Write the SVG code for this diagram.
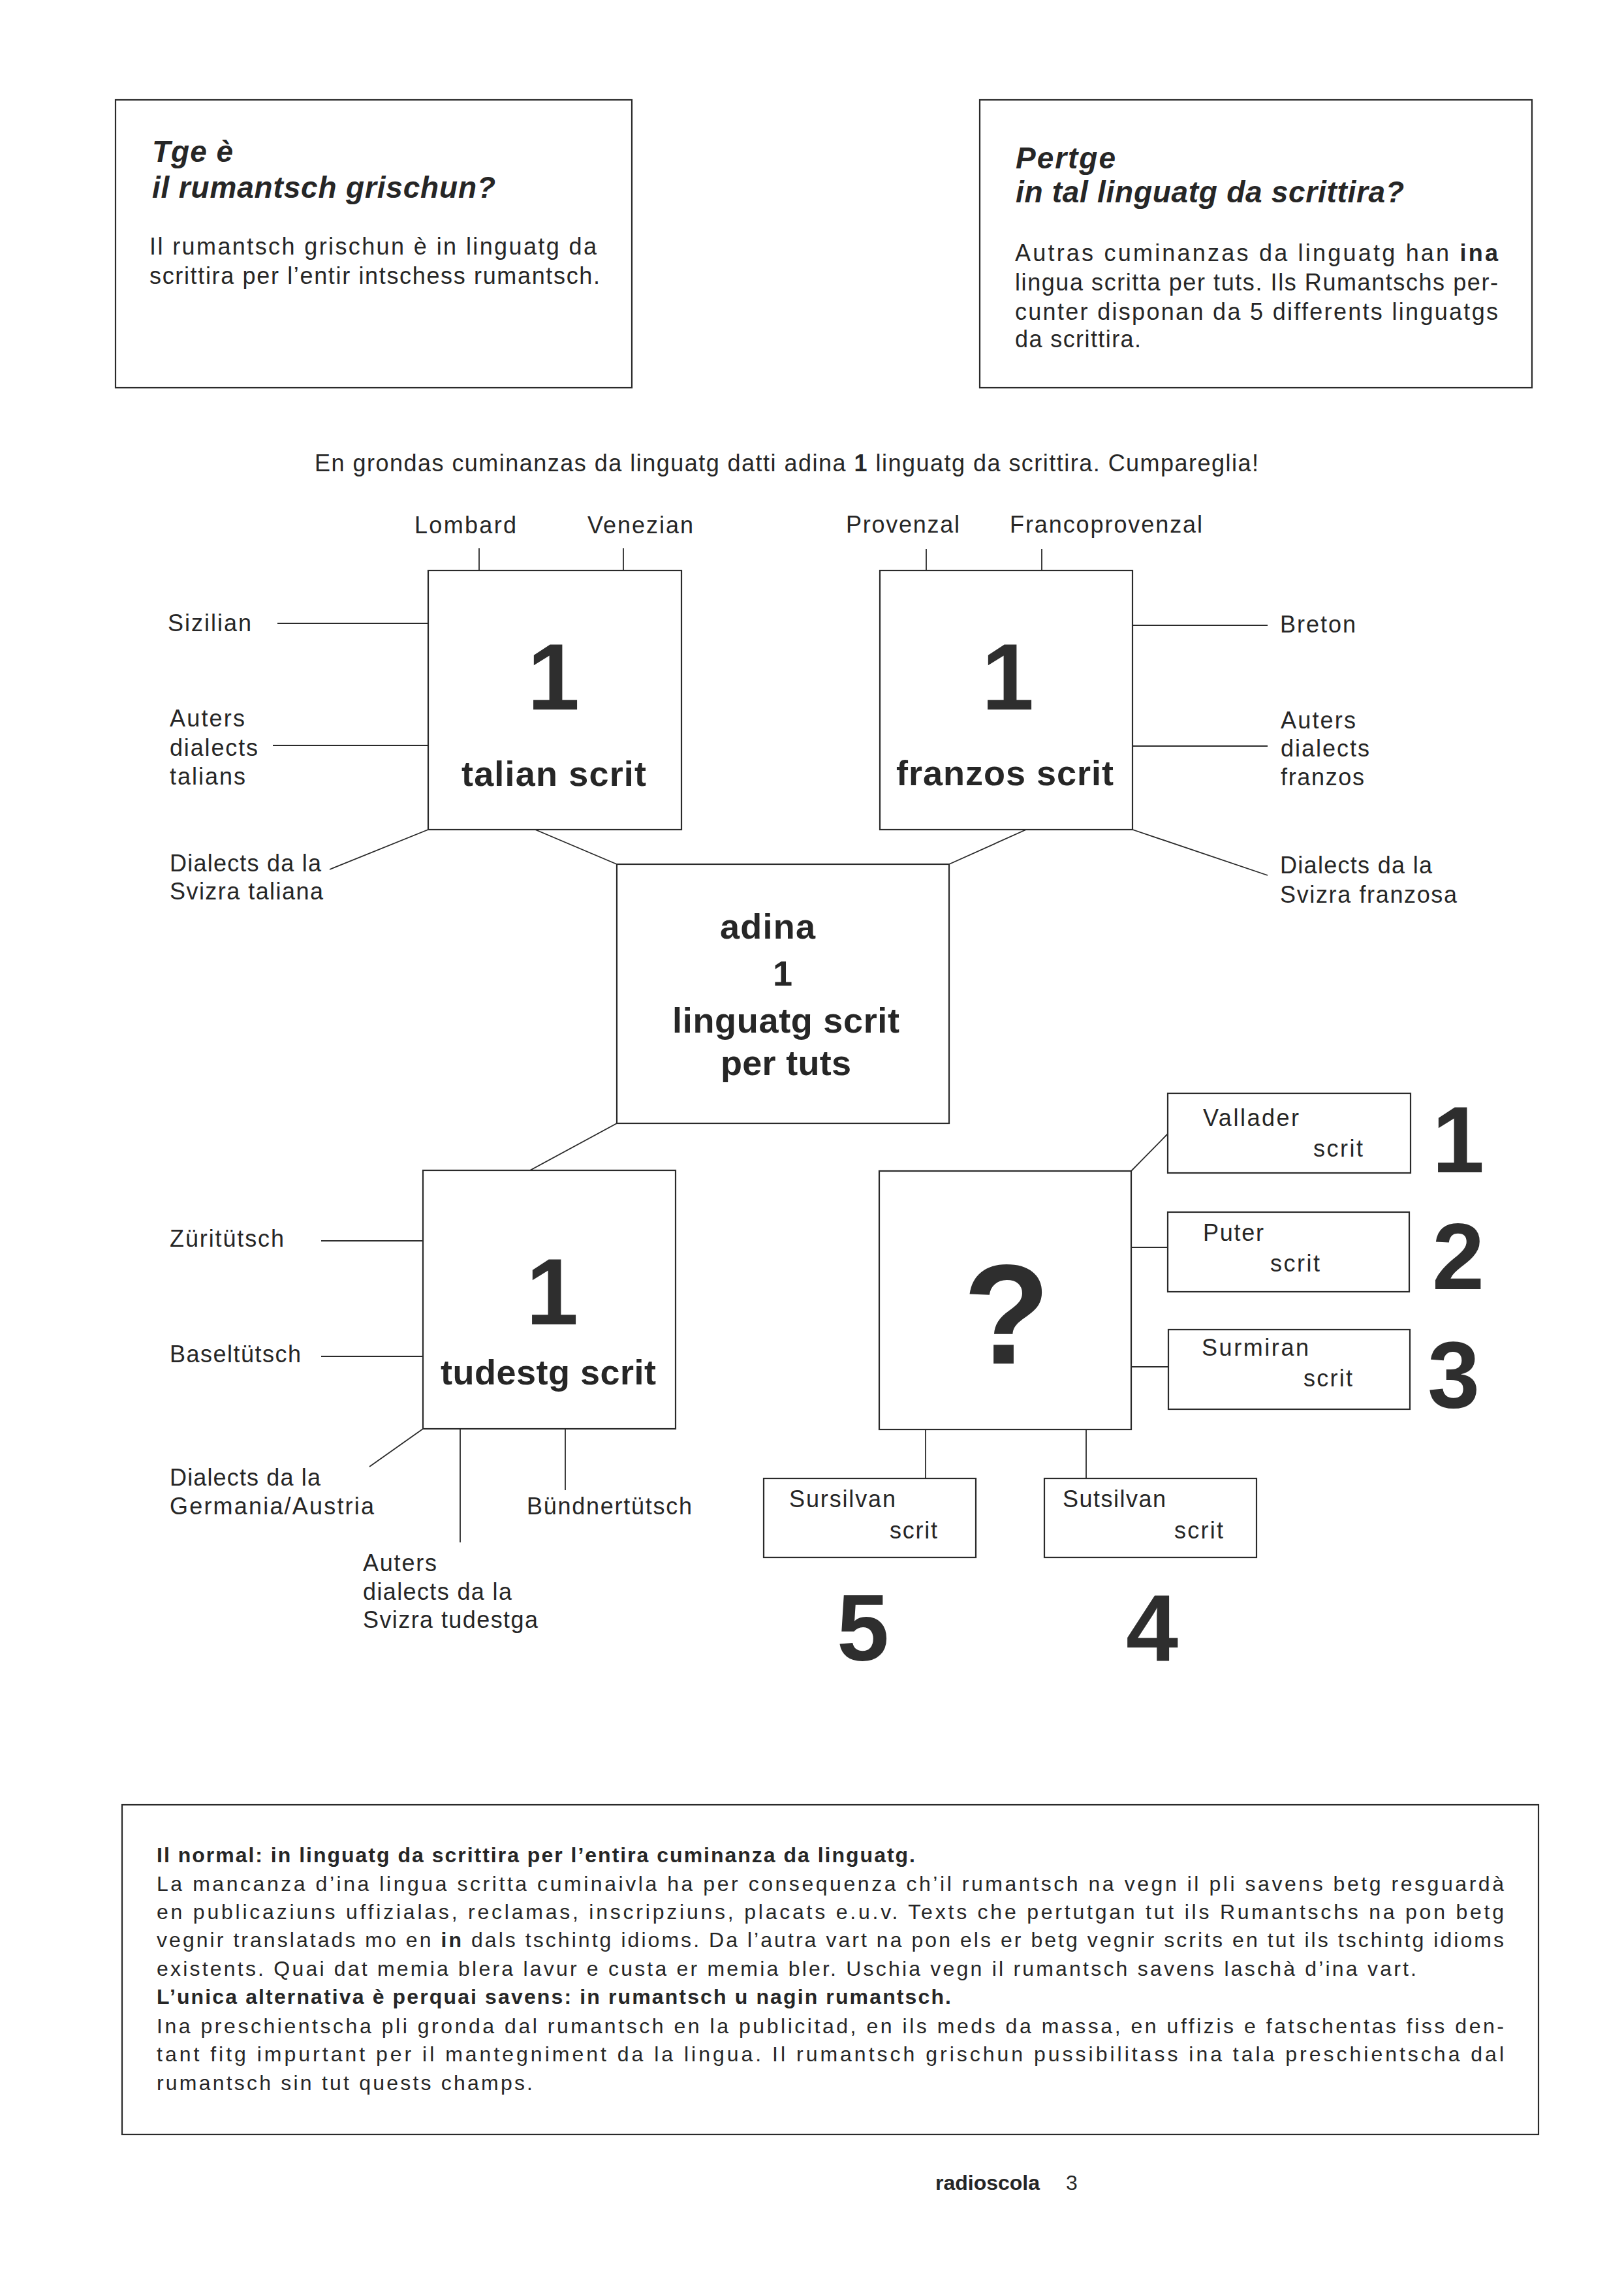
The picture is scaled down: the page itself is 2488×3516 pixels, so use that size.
<svg xmlns="http://www.w3.org/2000/svg" width="2488" height="3516" viewBox="0 0 2488 3516">
<style>
text{font-family:"Liberation Sans",Arial,Helvetica,sans-serif;fill:#262626}
.box{fill:none;stroke:#2a2a2a;stroke-width:2.2}
.ln{stroke:#2a2a2a;stroke-width:1.8;fill:none}
.lbl{font-size:36px}
.body{font-size:36px}
.small{font-size:32px}
.title{font-size:46px;font-weight:bold;font-style:italic}
.bl{font-size:54px;font-weight:bold}
.num{font-size:144px;font-weight:bold;fill:#2e2e2e;text-anchor:middle}
.b{font-weight:bold}
</style>
<rect width="2488" height="3516" fill="#ffffff"/>

<g id="box-tge">
<rect class="box" x="177" y="153" width="791" height="441"/>
<text class="title" x="233" y="248" textLength="124">Tge è</text>
<text class="title" x="233" y="303" textLength="526">il rumantsch grischun?</text>
<text class="body" x="229" y="390" textLength="685">Il rumantsch grischun è in linguatg da</text>
<text class="body" x="229" y="435" textLength="690">scrittira per l’entir intschess rumantsch.</text>
</g>

<g id="box-pertge">
<rect class="box" x="1501" y="153" width="846" height="441"/>
<text class="title" x="1556" y="258" textLength="153">Pertge</text>
<text class="title" x="1556" y="310" textLength="595">in tal linguatg da scrittira?</text>
<text class="body" x="1555" y="400" textLength="740">Autras cuminanzas da linguatg han <tspan class="b">ina</tspan></text>
<text class="body" x="1555" y="445" textLength="740">lingua scritta per tuts. Ils Rumantschs per-</text>
<text class="body" x="1555" y="490" textLength="740">cunter disponan da 5 differents linguatgs</text>
<text class="body" x="1555" y="532" textLength="193">da scrittira.</text>
</g>

<g id="intro">
<text class="lbl" x="482" y="722" textLength="1446">En grondas cuminanzas da linguatg datti adina <tspan class="b">1</tspan> linguatg da scrittira. Cumpareglia!</text>
</g>

<g id="connectors">
<line class="ln" x1="734" y1="840" x2="734" y2="874"/>
<line class="ln" x1="955" y1="840" x2="955" y2="874"/>
<line class="ln" x1="1419" y1="841" x2="1419" y2="874"/>
<line class="ln" x1="1596" y1="841" x2="1596" y2="874"/>
<line class="ln" x1="425" y1="955" x2="656" y2="955"/>
<line class="ln" x1="418" y1="1142" x2="656" y2="1142"/>
<line class="ln" x1="656" y1="1271" x2="505" y2="1332"/>
<line class="ln" x1="820" y1="1271" x2="945" y2="1324"/>
<line class="ln" x1="1572" y1="1271" x2="1454" y2="1324"/>
<line class="ln" x1="1735" y1="958" x2="1942" y2="958"/>
<line class="ln" x1="1735" y1="1143" x2="1942" y2="1143"/>
<line class="ln" x1="1735" y1="1271" x2="1942" y2="1341"/>
<line class="ln" x1="945" y1="1721" x2="812" y2="1793"/>
<line class="ln" x1="492" y1="1901" x2="648" y2="1901"/>
<line class="ln" x1="492" y1="2078" x2="648" y2="2078"/>
<line class="ln" x1="648" y1="2189" x2="566" y2="2247"/>
<line class="ln" x1="705" y1="2189" x2="705" y2="2363"/>
<line class="ln" x1="866" y1="2189" x2="866" y2="2283"/>
<line class="ln" x1="1733" y1="1794" x2="1789" y2="1737"/>
<line class="ln" x1="1733" y1="1911" x2="1789" y2="1911"/>
<line class="ln" x1="1733" y1="2094" x2="1790" y2="2094"/>
<line class="ln" x1="1418" y1="2190" x2="1418" y2="2265"/>
<line class="ln" x1="1664" y1="2190" x2="1664" y2="2265"/>
</g>

<g id="node-talian">
<rect class="box" x="656" y="874" width="388" height="397"/>
<text class="num" x="848" y="1087">1</text>
<text class="bl" x="707" y="1204" textLength="283">talian scrit</text>
</g>

<g id="node-franzos">
<rect class="box" x="1348" y="874" width="387" height="397"/>
<text class="num" x="1544" y="1087">1</text>
<text class="bl" x="1373" y="1203" textLength="333">franzos scrit</text>
</g>

<g id="node-adina">
<rect class="box" x="945" y="1324" width="509" height="397"/>
<text class="bl" x="1103" y="1438" textLength="146">adina</text>
<text class="bl" x="1199" y="1510" text-anchor="middle">1</text>
<text class="bl" x="1030" y="1582" textLength="348">linguatg scrit</text>
<text class="bl" x="1104" y="1647" textLength="200">per tuts</text>
</g>

<g id="node-tudestg">
<rect class="box" x="648" y="1793" width="387" height="396"/>
<text class="num" x="846" y="2029">1</text>
<text class="bl" x="675" y="2121" textLength="330">tudestg scrit</text>
</g>

<g id="node-rumantsch">
<rect class="box" x="1347" y="1794" width="386" height="396"/>
<text class="num" x="1542" y="2089" style="font-size:218px">?</text>
</g>

<g id="labels">
<text class="lbl" x="635" y="817" textLength="156">Lombard</text>
<text class="lbl" x="900" y="817" textLength="162">Venezian</text>
<text class="lbl" x="1296" y="816" textLength="174">Provenzal</text>
<text class="lbl" x="1547" y="816" textLength="295">Francoprovenzal</text>
<text class="lbl" x="257" y="967" textLength="128">Sizilian</text>
<text class="lbl" x="260" y="1113" textLength="115">Auters</text>
<text class="lbl" x="260" y="1158" textLength="135">dialects</text>
<text class="lbl" x="260" y="1202" textLength="116">talians</text>
<text class="lbl" x="260" y="1335" textLength="232">Dialects da la</text>
<text class="lbl" x="260" y="1378" textLength="235">Svizra taliana</text>
<text class="lbl" x="1961" y="969" textLength="116">Breton</text>
<text class="lbl" x="1962" y="1116" textLength="115">Auters</text>
<text class="lbl" x="1962" y="1159" textLength="136">dialects</text>
<text class="lbl" x="1962" y="1203" textLength="128">franzos</text>
<text class="lbl" x="1961" y="1338" textLength="233">Dialects da la</text>
<text class="lbl" x="1961" y="1383" textLength="271">Svizra franzosa</text>
<text class="lbl" x="260" y="1910" textLength="175">Züritütsch</text>
<text class="lbl" x="260" y="2087" textLength="201">Baseltütsch</text>
<text class="lbl" x="260" y="2276" textLength="231">Dialects da la</text>
<text class="lbl" x="260" y="2320" textLength="313">Germania/Austria</text>
<text class="lbl" x="807" y="2320" textLength="253">Bündnertütsch</text>
<text class="lbl" x="556" y="2407" textLength="113">Auters</text>
<text class="lbl" x="556" y="2451" textLength="228">dialects da la</text>
<text class="lbl" x="556" y="2494" textLength="268">Svizra tudestga</text>
</g>

<g id="node-vallader">
<rect class="box" x="1789" y="1675" width="372" height="122"/>
<text class="lbl" x="1843" y="1725" textLength="147">Vallader</text>
<text class="lbl" x="2012" y="1772" textLength="76">scrit</text>
<text class="num" x="2234" y="1796">1</text>
</g>

<g id="node-puter">
<rect class="box" x="1789" y="1857" width="370" height="122"/>
<text class="lbl" x="1843" y="1901" textLength="93">Puter</text>
<text class="lbl" x="1946" y="1948" textLength="76">scrit</text>
<text class="num" x="2234" y="1975">2</text>
</g>

<g id="node-surmiran">
<rect class="box" x="1790" y="2037" width="370" height="122"/>
<text class="lbl" x="1841" y="2077" textLength="164">Surmiran</text>
<text class="lbl" x="1997" y="2124" textLength="75">scrit</text>
<text class="num" x="2227" y="2156">3</text>
</g>

<g id="node-sursilvan">
<rect class="box" x="1170" y="2265" width="325" height="121"/>
<text class="lbl" x="1209" y="2309" textLength="163">Sursilvan</text>
<text class="lbl" x="1363" y="2357" textLength="73">scrit</text>
<text class="num" x="1322" y="2544">5</text>
</g>

<g id="node-sutsilvan">
<rect class="box" x="1600" y="2265" width="325" height="121"/>
<text class="lbl" x="1628" y="2309" textLength="158">Sutsilvan</text>
<text class="lbl" x="1799" y="2357" textLength="75">scrit</text>
<text class="num" x="1765" y="2544">4</text>
</g>

<g id="box-normal">
<rect class="box" x="187" y="2765" width="2170" height="505"/>
<text class="small b" x="240" y="2853" textLength="1162">Il normal: in linguatg da scrittira per l’entira cuminanza da linguatg.</text>
<text class="small" x="240" y="2897" textLength="2064">La mancanza d’ina lingua scritta cuminaivla ha per consequenza ch’il rumantsch na vegn il pli savens betg resguardà</text>
<text class="small" x="240" y="2940" textLength="2064">en publicaziuns uffizialas, reclamas, inscripziuns, placats e.u.v. Texts che pertutgan tut ils Rumantschs na pon betg</text>
<text class="small" x="240" y="2983" textLength="2064">vegnir translatads mo en <tspan class="b">in</tspan> dals tschintg idioms. Da l’autra vart na pon els er betg vegnir scrits en tut ils tschintg idioms</text>
<text class="small" x="240" y="3027" textLength="1930">existents. Quai dat memia blera lavur e custa er memia bler. Uschia vegn il rumantsch savens laschà d’ina vart.</text>
<text class="small b" x="240" y="3070" textLength="1217">L’unica alternativa è perquai savens: in rumantsch u nagin rumantsch.</text>
<text class="small" x="240" y="3115" textLength="2064">Ina preschientscha pli gronda dal rumantsch en la publicitad, en ils meds da massa, en uffizis e fatschentas fiss den-</text>
<text class="small" x="240" y="3158" textLength="2064">tant fitg impurtant per il mantegniment da la lingua. Il rumantsch grischun pussibilitass ina tala preschientscha dal</text>
<text class="small" x="240" y="3202" textLength="576">rumantsch sin tut quests champs.</text>
</g>

<g id="footer">
<text x="1433" y="3355" style="font-size:32px;font-weight:bold" textLength="160">radioscola</text>
<text x="1633" y="3355" style="font-size:32px">3</text>
</g>
</svg>
